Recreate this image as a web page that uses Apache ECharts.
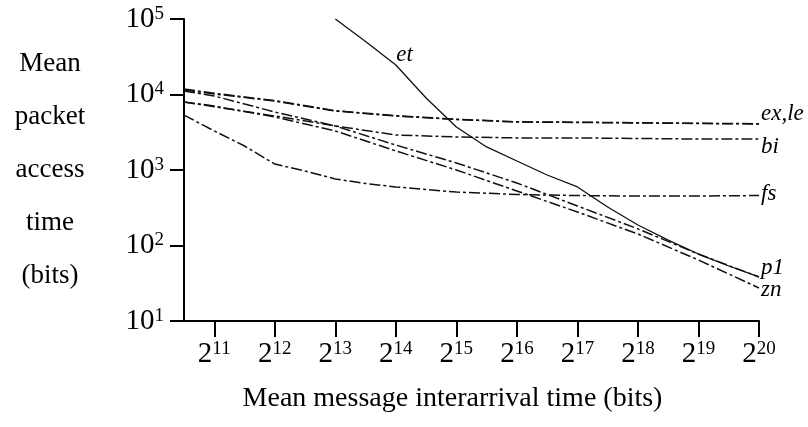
<!DOCTYPE html>
<html>
<head>
<meta charset="utf-8">
<script src="https://cdn.jsdelivr.net/npm/echarts@6/dist/echarts.min.js"></script>
<style>
html,body{margin:0;padding:0;background:#fff;}
#chart{width:808px;height:427px;}
</style>
</head>
<body>
<div id="chart"></div>
<script>
// x positions are log2 of the mean message interarrival time (bits)
const xTicks = [11, 12, 13, 14, 15, 16, 17, 18, 19, 20];
const yTicks = [10, 100, 1000, 10000, 100000];

const kGrid = [10.5, 11, 12, 13, 14, 15, 16, 17, 18, 19, 20];
const exValues = [11480, 10160, 8200, 6040, 5190, 4660, 4320, 4260, 4200, 4130, 4070];
const leValues = [11800, 10400, 8300, 6100, 5250, 4700, 4350, 4300, 4230, 4150, 4100];
const biValues = [7960, 6890, 5190, 3830, 2910, 2740, 2660, 2660, 2615, 2570, 2570];
const p1Values = [11120, 9550, 5860, 3830, 2140, 1240, 673, 334, 166, 77, 38.3];
const znValues = [7960, 7050, 5030, 3290, 1790, 1000, 527, 278, 142, 64.3, 27.4];

const fsX = [10.5, 11, 11.5, 12, 12.5, 13, 13.5, 14, 15, 16, 17, 18, 19, 20];
const fsValues = [5340, 3290, 2080, 1200, 970, 760, 663, 596, 511, 474, 459, 452, 452, 459];

const etX = [13, 13.5, 14, 14.5, 15, 15.5, 16, 16.5, 17, 17.5, 18, 18.5, 19, 19.5, 20];
const etValues = [100000, 50350, 24600, 8990, 3720, 2020, 1316, 859, 596, 324, 187, 118, 77.1, 53.5, 38.3];
const etLabelIndex = 2;

const serif = '"Liberation Serif", "DejaVu Serif", serif';
const dashDot = [11, 3, 3, 3];

function pairs(xs, ys) { return xs.map((x, i) => [x, ys[i]]); }

function dashSeries(name, xs, ys, labelText, labelDy) {
  const s = {
    name: name,
    type: 'line',
    data: pairs(xs, ys),
    showSymbol: false,
    symbol: 'none',
    smooth: false,
    lineStyle: { color: '#111', width: 1.5, type: dashDot },
    emphasis: { disabled: true },
    animation: false
  };
  if (labelText) {
    s.endLabel = {
      show: true,
      formatter: labelText,
      distance: 2,
      offset: [0, labelDy],
      fontFamily: serif,
      fontStyle: 'italic',
      fontSize: 23,
      color: '#000'
    };
  }
  return s;
}

const chart = echarts.init(document.getElementById('chart'), null, { renderer: 'canvas' });

chart.setOption({
  animation: false,
  grid: { left: 184, right: 49, top: 19, bottom: 106, containLabel: false },
  xAxis: {
    type: 'value',
    min: 10.5,
    max: 20,
    name: 'Mean message interarrival time (bits)',
    nameLocation: 'middle',
    nameGap: 64,
    nameTextStyle: { fontFamily: serif, fontSize: 28, color: '#000', padding: [0, 38, 0, 0] },
    axisLine: { show: true, lineStyle: { color: '#000', width: 2 } },
    axisTick: { show: true, customValues: xTicks, length: 16, inside: false, lineStyle: { color: '#000', width: 2 } },
    axisLabel: {
      customValues: xTicks,
      margin: 19,
      formatter: v => '{b|2}{s|' + Math.round(v) + '}',
      rich: {
        b: { fontFamily: serif, fontSize: 29, color: '#000' },
        s: { fontFamily: serif, fontSize: 19, color: '#000', verticalAlign: 'top' }
      }
    },
    splitLine: { show: false }
  },
  yAxis: {
    type: 'log',
    logBase: 10,
    min: 10,
    max: 100000,
    name: 'Mean\npacket\naccess\ntime\n(bits)',
    nameLocation: 'middle',
    nameRotate: 0,
    nameGap: 134,
    nameTextStyle: { fontFamily: serif, fontSize: 27, color: '#000', align: 'center', lineHeight: 53 },
    axisLine: { show: true, lineStyle: { color: '#000', width: 2 } },
    axisTick: { show: true, length: 14, lineStyle: { color: '#000', width: 2 } },
    minorTick: { show: false },
    axisLabel: {
      margin: 20,
      formatter: v => '{b|10}{s|' + Math.round(Math.log10(v)) + '}',
      rich: {
        b: { fontFamily: serif, fontSize: 29, color: '#000' },
        s: { fontFamily: serif, fontSize: 19, color: '#000', verticalAlign: 'top' }
      }
    },
    splitLine: { show: false }
  },
  series: [
    {
      name: 'et',
      type: 'line',
      data: pairs(etX, etValues),
      showSymbol: false,
      symbol: 'none',
      lineStyle: { color: '#111', width: 1.3, type: 'solid' },
      emphasis: { disabled: true },
      animation: false,
      markPoint: {
        silent: true,
        symbol: 'circle',
        symbolSize: 1,
        itemStyle: { color: 'rgba(0,0,0,0)' },
        label: {
          show: true, formatter: 'et', position: 'right', distance: 0, offset: [0, -10],
          fontFamily: serif, fontStyle: 'italic', fontSize: 23, color: '#000'
        },
        data: [{ coord: [etX[etLabelIndex], etValues[etLabelIndex]] }]
      }
    },
    dashSeries('ex', kGrid, exValues, 'ex,le', -10),
    dashSeries('le', kGrid, leValues, null, 0),
    dashSeries('bi', kGrid, biValues, 'bi', 8),
    dashSeries('fs', fsX, fsValues, 'fs', -2),
    dashSeries('p1', kGrid, p1Values, 'p1', -9),
    dashSeries('zn', kGrid, znValues, 'zn', 2)
  ]
});
</script>
</body>
</html>
